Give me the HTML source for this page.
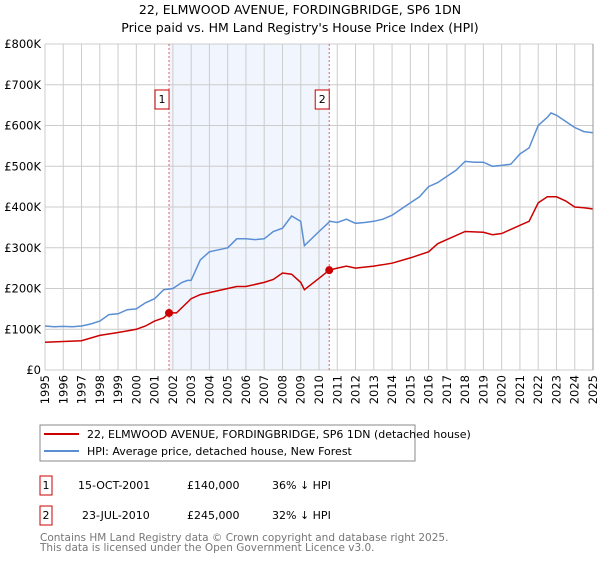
<!DOCTYPE html>
<html><head><meta charset="utf-8"><style>
body{margin:0;background:#fff;font-family:"DejaVu Sans","Liberation Sans",sans-serif;}
svg text{font-family:"DejaVu Sans","Liberation Sans",sans-serif;}
</style></head><body>
<svg id="chart" width="600" height="560" xmlns="http://www.w3.org/2000/svg">
<text x="300" y="14" text-anchor="middle" font-size="12.5">22, ELMWOOD AVENUE, FORDINGBRIDGE, SP6 1DN</text>
<text x="300" y="32" text-anchor="middle" font-size="12.5">Price paid vs. HM Land Registry's House Price Index (HPI)</text>
<g id="plot"></g>
<g>
<rect x="40" y="425" width="375" height="36" fill="#fff" stroke="#888"/>
<line x1="44" y1="434" x2="79" y2="434" stroke="#cc0000" stroke-width="2"/>
<text x="87" y="438" font-size="11">22, ELMWOOD AVENUE, FORDINGBRIDGE, SP6 1DN (detached house)</text>
<line x1="44" y1="451" x2="79" y2="451" stroke="#5b8fd4" stroke-width="2"/>
<text x="87" y="455" font-size="11">HPI: Average price, detached house, New Forest</text>
</g>
<g font-size="11">
<rect x="40" y="476" width="12" height="19" fill="#fff" stroke="#cc0000"/><text x="46" y="489" text-anchor="middle">1</text>
<text x="78" y="489">15-OCT-2001</text><text x="187" y="489">£140,000</text><text x="272" y="489">36% ↓ HPI</text>
<rect x="40" y="506" width="12" height="19" fill="#fff" stroke="#cc0000"/><text x="46" y="519" text-anchor="middle">2</text>
<text x="82" y="519">23-JUL-2010</text><text x="187" y="519">£245,000</text><text x="272" y="519">32% ↓ HPI</text>
</g>
<text x="40" y="541" font-size="10.5" fill="#777">Contains HM Land Registry data © Crown copyright and database right 2025.</text>
<text x="40" y="551" font-size="10.5" fill="#777">This data is licensed under the Open Government Licence v3.0.</text>
</svg>
<script>
const hpiYears=[1995,1995.5,1996,1996.5,1997,1997.5,1998,1998.5,1999,1999.5,2000,2000.5,2001,2001.5,2002,2002.5,2002.8,2003,2003.5,2004,2004.5,2005,2005.5,2006,2006.5,2007,2007.5,2008,2008.5,2009,2009.2,2010,2010.6,2011,2011.5,2012,2012.5,2013,2013.5,2014,2014.5,2015,2015.5,2016,2016.5,2017,2017.5,2018,2018.5,2019,2019.5,2020,2020.5,2021,2021.5,2022,2022.5,2022.7,2023,2023.5,2024,2024.5,2025];
const hpiValues=[108,106,107,106,108,113,120,136,138,148,150,165,175,197,200,215,220,220,270,290,295,300,322,322,320,322,340,348,378,365,305,340,365,362,370,360,362,365,370,380,395,410,425,450,460,475,490,512,510,510,500,502,505,530,545,600,620,631,625,610,595,585,582];
const redYears=[1995,1996,1997,1998,1999,2000,2000.5,2001,2001.5,2001.79,2002.2,2003,2003.5,2004,2005,2005.5,2006,2007,2007.5,2008,2008.5,2009,2009.2,2010,2010.56,2011,2011.5,2012,2013,2014,2015,2016,2016.5,2017,2018,2019,2019.5,2020,2021,2021.5,2022,2022.5,2023,2023.5,2024,2024.5,2025];
const redValues=[68,70,72,85,92,100,108,120,128,140,140,175,185,190,200,205,205,215,222,238,235,215,197,225,245,250,255,250,255,262,275,290,310,320,340,338,332,335,355,365,410,425,425,415,400,398,395];
const saleYears=[2001.79,2010.56];
const salePrices=[140,245];
const saleLabels=["1","2"];
const yTicks=[0,100,200,300,400,500,600,700,800];
const yTickLabels=["£0","£100K","£200K","£300K","£400K","£500K","£600K","£700K","£800K"];
const xTicks=[1995,1996,1997,1998,1999,2000,2001,2002,2003,2004,2005,2006,2007,2008,2009,2010,2011,2012,2013,2014,2015,2016,2017,2018,2019,2020,2021,2022,2023,2024,2025];

const L=45,R=593,T=44,B=370;
const x=v=>L+(v-1995)/30*(R-L);
const y=v=>B-v/800*(B-T);
const NS="http://www.w3.org/2000/svg";
const g=document.getElementById('plot');
function mk(t,a){const e=document.createElementNS(NS,t);for(const k in a)e.setAttribute(k,a[k]);g.appendChild(e);return e;}
let e=mk('rect',{x:L,y:T,width:R-L,height:B-T,fill:'#fff'});


e=mk('rect',{x:x(saleYears[0]),y:T,width:x(saleYears[1])-x(saleYears[0]),height:B-T,fill:'#eef3fc',opacity:0.8});


yTicks.forEach((v,i)=>{
 e=mk('line',{x1:L,x2:R,y1:y(v),y2:y(v),stroke:'#ccc'});
 
 
 e=mk('text',{x:L-4,y:y(v)+4,'text-anchor':'end','font-size':'11.5'});e.textContent=yTickLabels[i];
 
 
});
xTicks.forEach(v=>{
 e=mk('line',{x1:x(v),x2:x(v),y1:T,y2:B,stroke:'#ccc'});
 
 
 e=mk('text',{x:0,y:0,'font-size':'11.5','text-anchor':'end',transform:`translate(${x(v)+4},${B+5}) rotate(-90)`});e.textContent=v;
 
 
});
saleYears.forEach((v,i)=>{
 e=mk('line',{x1:x(v),x2:x(v),y1:T,y2:B,stroke:'#e06060','stroke-dasharray':'2,2'});
 
 
 e=mk('rect',{x:x(v)-14,y:90,width:14,height:19,fill:'#fff',stroke:'#cc0000'});
 
 
 e=mk('text',{x:x(v)-7,y:103,'text-anchor':'middle','font-size':'11'});e.textContent=saleLabels[i];
 
 
});
e=mk('path',{d:hpiYears.map((v,i)=>(i?'L':'M')+x(v).toFixed(1)+','+y(hpiValues[i]).toFixed(1)).join(''),fill:'none',stroke:'#5b8fd4','stroke-width':1.5});


e=mk('path',{d:redYears.map((v,i)=>(i?'L':'M')+x(v).toFixed(1)+','+y(redValues[i]).toFixed(1)).join(''),fill:'none',stroke:'#cc0000','stroke-width':1.5});


saleYears.forEach((v,i)=>{
 e=mk('circle',{cx:x(v),cy:y(salePrices[i]),r:4,fill:'#cc0000'});
 
 
});
e=mk('line',{x1:R,x2:R,y1:T,y2:B,stroke:'#999'});


</script>
</body></html>
